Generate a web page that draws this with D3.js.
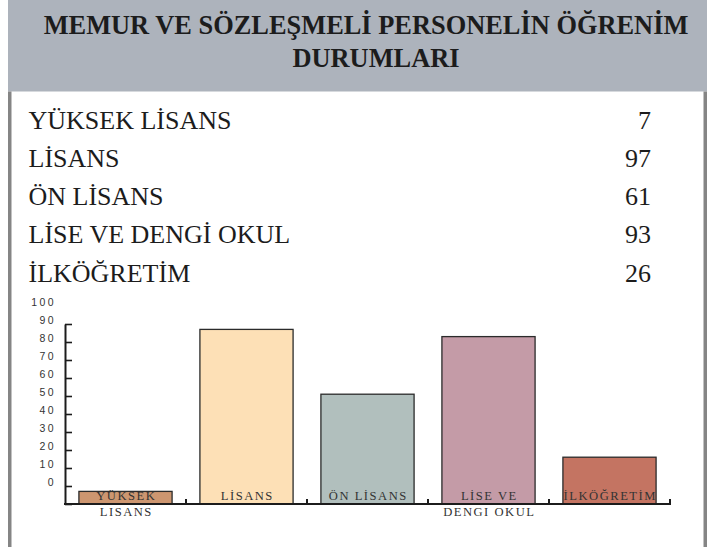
<!DOCTYPE html>
<html>
<head>
<meta charset="utf-8">
<script src="https://cdn.jsdelivr.net/npm/d3@7"></script>
<style>
  body { margin: 0; background: #fff; }
  svg { display: block; }
</style>
</head>
<body>
<script>
  // chart data
  var categories = ["YÜKSEK LİSANS", "LİSANS", "ÖN LİSANS", "LİSE VE DENGİ OKUL", "İLKÖĞRETİM"];
  var values = [7, 97, 61, 93, 26];
  var barLabels = [["YÜKSEK", "LISANS"], ["LİSANS"], ["ÖN LİSANS"], ["LİSE VE", "DENGI OKUL"], ["İLKÖĞRETİM"]];
  var colors = ["#cd9670", "#fde0b6", "#b1bfbd", "#c49ba7", "#c47462"];
  var yTicks = [0, 10, 20, 30, 40, 50, 60, 70, 80, 90, 100];
  var titleLines = ["MEMUR VE SÖZLEŞMELİ PERSONELİN ÖĞRENİM", "DURUMLARI"];

  var width = 714, height = 547;

  // pick the first serif face that is really installed
  var ctx = document.createElement("canvas").getContext("2d");
  function w(f) { ctx.font = "40px " + f; return ctx.measureText("MEMUR ÖĞRENİM wil 0123").width; }
  var base = w("monospace");
  var cands = ["Liberation Serif", "Tinos", "Times New Roman", "DejaVu Serif", "Noto Serif", "Georgia"];
  var pick = cands.filter(function(f) { return w("'" + f + "', monospace") !== base; })[0];
  var serif = pick ? "'" + pick + "', serif" : "serif";

  var svg = d3.select("body").append("svg")
    .attr("width", width)
    .attr("height", height)
    .style("font-family", serif);

  // header band
  svg.append("rect")
    .attr("x", 8).attr("y", 0)
    .attr("width", 699).attr("height", 91.5)
    .attr("fill", "#adb3bc");

  // side borders
  svg.append("rect").attr("x", 8).attr("y", 91.5).attr("width", 3.5).attr("height", height - 91.5).attr("fill", "#858585");
  svg.append("rect").attr("x", 703.5).attr("y", 91.5).attr("width", 3.5).attr("height", height - 91.5).attr("fill", "#858585");

  var titleX = [366, 376];
  svg.selectAll("text.title")
    .data(titleLines)
    .enter().append("text")
    .attr("class", "title")
    .attr("x", function(d, i) { return titleX[i]; })
    .attr("y", function(d, i) { return 33.5 + i * 33.3; })
    .attr("text-anchor", "middle")
    .style("font-weight", "bold")
    .style("font-size", "26.4px")
    .attr("fill", "#1c1c1c")
    .text(function(d) { return d; });

  // table rows
  var rows = svg.append("g").selectAll("g")
    .data(categories)
    .enter().append("g")
    .attr("transform", function(d, i) { return "translate(0," + (128.5 + i * 38.3) + ")"; });

  rows.append("text")
    .attr("x", 28.5)
    .style("font-size", "26px")
    .attr("fill", "#1c1c1c")
    .text(function(d) { return d; });

  rows.append("text")
    .attr("x", 651)
    .attr("text-anchor", "end")
    .style("font-size", "26px")
    .attr("fill", "#1c1c1c")
    .text(function(d, i) { return values[i]; });

  // bar chart
  var x = d3.scaleBand()
    .domain(categories)
    .range([65, 670])
    .paddingInner(0.23)
    .paddingOuter(0.115);

  var y = d3.scaleLinear()
    .domain([0, 100])
    .range([504, 324]);

  svg.append("g")
    .selectAll("rect")
    .data(values)
    .enter().append("rect")
    .attr("x", function(d, i) { return x(categories[i]); })
    .attr("y", function(d) { return y(d); })
    .attr("width", x.bandwidth())
    .attr("height", function(d) { return y(0) - y(d); })
    .attr("fill", function(d, i) { return colors[i]; })
    .attr("stroke", "#2b2b2b")
    .attr("stroke-width", 1.3);

  // y axis: ticks point inward, labels sit above their ticks
  var yAxis = svg.append("g")
    .attr("transform", "translate(65,0)")
    .call(d3.axisLeft(y).tickValues(yTicks).tickSize(-7).tickSizeOuter(0).tickPadding(9));

  yAxis.select(".domain").attr("stroke", "#1c1c1c").attr("stroke-width", 2);
  yAxis.selectAll(".tick line").attr("stroke", "#1c1c1c").attr("stroke-width", 1.6);
  yAxis.selectAll(".tick text")
    .attr("dy", "-1.75em")
    .attr("font-family", null)
    .attr("font-size", null)
    .style("font-size", "10.5px")
    .attr("letter-spacing", 2.4)
    .attr("fill", "#333");

  // x axis
  var step = x.step();
  var bounds = categories.map(function(c) { return x(c) + x.bandwidth() + step * x.paddingInner() / 2; });

  var xAxis = svg.append("g");
  xAxis.append("line")
    .attr("x1", 64).attr("x2", bounds[bounds.length - 1] + 1)
    .attr("y1", y(0)).attr("y2", y(0))
    .attr("stroke", "#1c1c1c").attr("stroke-width", 2);

  xAxis.selectAll("line.tk")
    .data(bounds)
    .enter().append("line")
    .attr("class", "tk")
    .attr("x1", function(d) { return d; }).attr("x2", function(d) { return d; })
    .attr("y1", y(0)).attr("y2", y(0) - 5)
    .attr("stroke", "#1c1c1c").attr("stroke-width", 2);

  // category labels
  var lab = svg.append("g").selectAll("text")
    .data(barLabels)
    .enter().append("text")
    .attr("x", function(d, i) { return x(categories[i]) + x.bandwidth() / 2 + 0.8; })
    .attr("y", 500)
    .attr("text-anchor", "middle")
    .style("font-size", "12.6px")
    .attr("letter-spacing", 1.5)
    .attr("fill", "#333");

  lab.selectAll("tspan")
    .data(function(d) { return d; })
    .enter().append("tspan")
    .attr("x", function() { return d3.select(this.parentNode).attr("x"); })
    .attr("dy", function(d, i) { return i ? 15.5 : 0; })
    .text(function(d) { return d; });
</script>
</body>
</html>
